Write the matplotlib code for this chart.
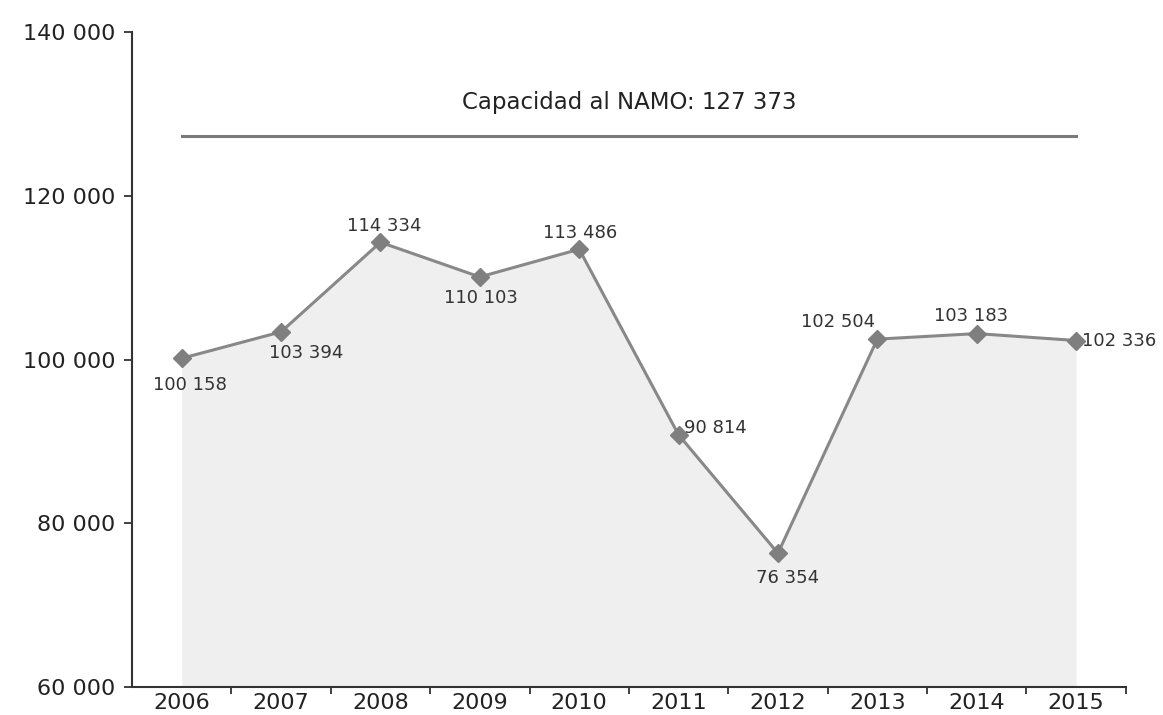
import matplotlib
matplotlib.use('Agg')
import matplotlib.pyplot as plt
import numpy as np

years = ['2006', '2007', '2008', '2009', '2010', '2011', '2012', '2013', '2014', '2015']
volumes = [100158, 103394, 114334, 110103, 113486, 90814, 76354, 102504, 103183, 102336]
namo = 127373
yticks = [60000, 80000, 100000, 120000, 140000]

# label offsets (points) relative to each marker, and alignment
offsets = [(6, -19), (18, -15), (3, 12), (1, -15), (1, 12),
           (4, 5), (7, -18), (-28, 12), (-4, 13), (4, 0)]
aligns = ['center'] * 5 + ['left'] + ['center'] * 3 + ['left']


def fmt(v):
    return f'{v:,}'.replace(',', ' ')


fig = plt.figure(figsize=(11.63, 7.15), dpi=100)
ax = fig.add_axes([0.1135, 0.039, 0.8545, 0.916])

x = np.arange(len(years))
ax.fill_between(x, volumes, 60000, color='#efefef', linewidth=0, zorder=1)
ax.plot(x, volumes, color='#888888', linewidth=2.2, marker='D', markersize=9,
        markerfacecolor='#7f7f7f', markeredgecolor='#7f7f7f', zorder=3)

ax.plot([x[0], x[-1]], [namo, namo], color='#7a7a7a', linewidth=2.2, zorder=2)
ax.text((x[0] + x[-1]) / 2, namo + 2600, f'Capacidad al NAMO: {fmt(namo)}',
        ha='center', va='bottom', fontsize=16.5, color='#222222')

for xi, v, (dx, dy), ha in zip(x, volumes, offsets, aligns):
    ax.annotate(fmt(v), (xi, v), xytext=(dx, dy), textcoords='offset points',
                ha=ha, va='center', fontsize=13, color='#333333', zorder=4)

ax.set_xlim(-0.5, len(years) - 0.5)
ax.set_ylim(60000, 140000)
ax.set_yticks(yticks)
ax.set_yticklabels([fmt(t) for t in yticks], fontsize=16, color='#222222')

# tick marks at category boundaries, labels at centers
ax.set_xticks(np.arange(len(years)) + 0.5)
ax.set_xticklabels([])
ax.set_xticks(x, minor=True)
ax.set_xticklabels(years, minor=True, fontsize=16, color='#222222')
ax.tick_params(axis='x', which='minor', length=0, pad=4)
ax.tick_params(axis='x', which='major', length=5, width=1.3, color='#333333')
ax.tick_params(axis='y', length=6, width=1.3, color='#333333', pad=6)

for s in ['top', 'right']:
    ax.spines[s].set_visible(False)
for s in ['left', 'bottom']:
    ax.spines[s].set_color('#333333')
    ax.spines[s].set_linewidth(1.5)

fig.savefig('out.png', dpi=100)
